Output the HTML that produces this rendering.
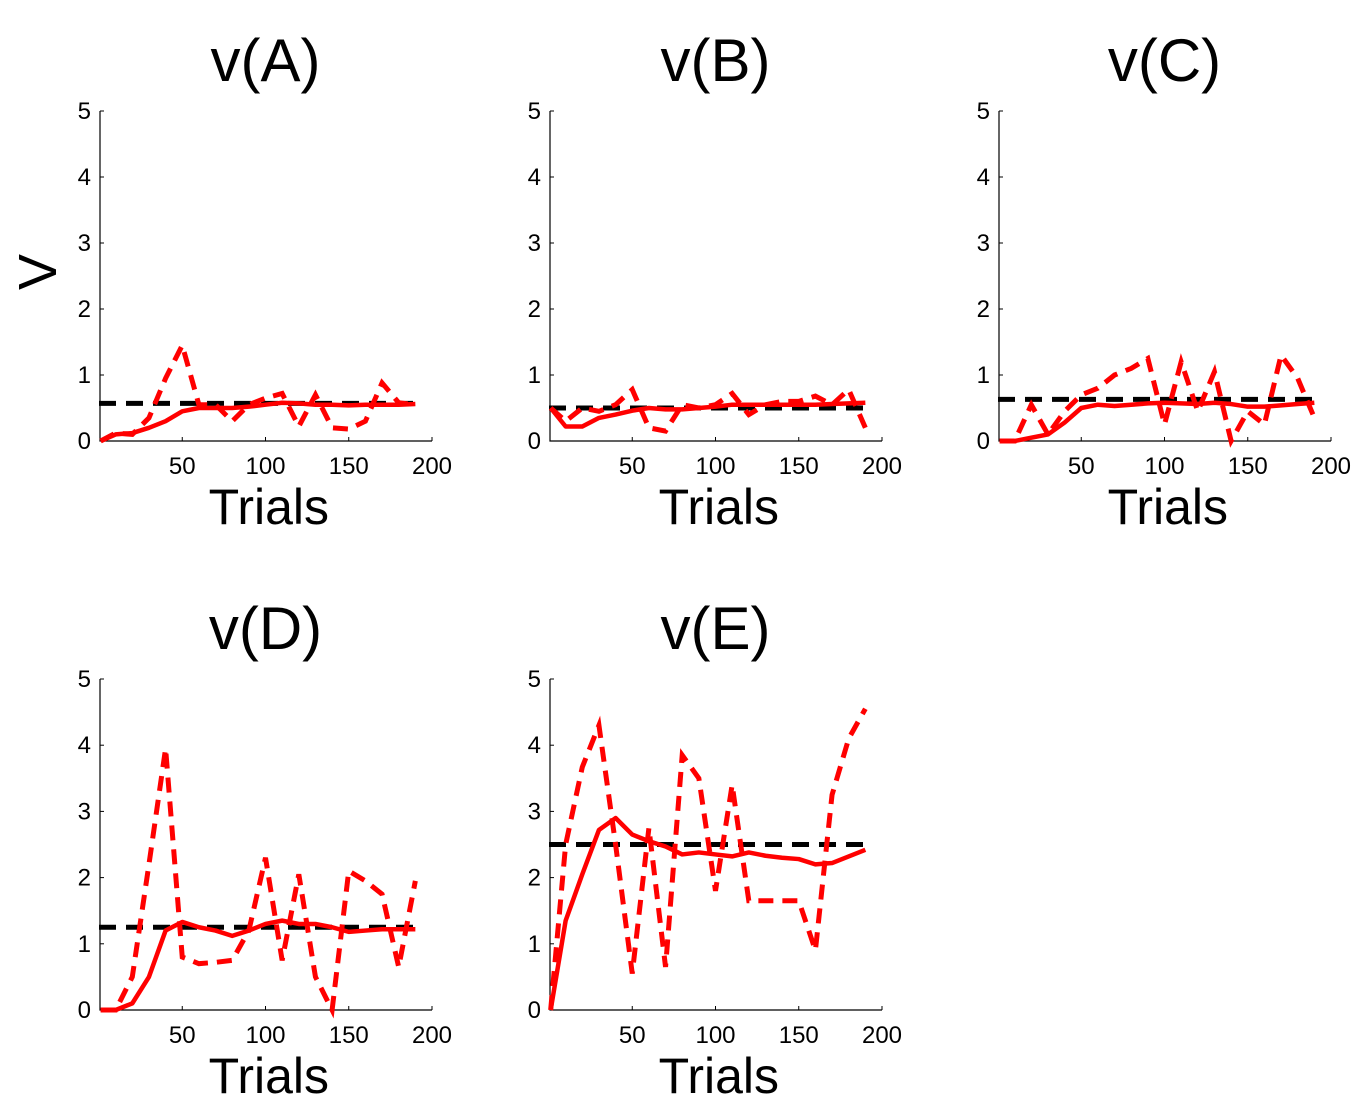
<!DOCTYPE html>
<html><head><meta charset="utf-8"><style>
body{margin:0;background:#fff;}
svg text{font-family:"Liberation Sans",sans-serif;fill:#000;}
</style></head><body>
<svg id="chart" width="1364" height="1112" xmlns="http://www.w3.org/2000/svg"></svg>
<script>
const trials=[1,10,20,30,40,50,60,70,80,90,100,110,120,130,140,150,160,170,180,190];
const panelNames=["A","B","C","D","E"];
const solidA=[0,0.1,0.12,0.2,0.3,0.45,0.5,0.5,0.5,0.52,0.55,0.58,0.57,0.55,0.55,0.54,0.55,0.55,0.55,0.56];
const dashA=[0,0.12,0.1,0.35,0.95,1.45,0.55,0.55,0.3,0.55,0.65,0.72,0.22,0.7,0.2,0.18,0.3,0.88,0.58,0.55];
const trueA=0.57;
const solidB=[0.5,0.22,0.22,0.35,0.4,0.46,0.5,0.48,0.48,0.5,0.52,0.55,0.55,0.55,0.55,0.55,0.55,0.56,0.57,0.58];
const dashB=[0.5,0.3,0.5,0.45,0.55,0.78,0.2,0.15,0.55,0.5,0.55,0.72,0.4,0.55,0.6,0.6,0.68,0.55,0.78,0.2];
const trueB=0.5;
const solidC=[0,0,0.05,0.1,0.28,0.5,0.55,0.53,0.55,0.57,0.58,0.57,0.56,0.58,0.56,0.52,0.52,0.54,0.56,0.58];
const dashC=[0,0,0.55,0.1,0.45,0.7,0.8,1.0,1.1,1.25,0.25,1.2,0.45,1.05,0,0.45,0.25,1.3,0.95,0.35];
const trueC=0.63;
const solidD=[0,0,0.1,0.5,1.2,1.33,1.25,1.2,1.12,1.2,1.3,1.35,1.3,1.3,1.25,1.18,1.2,1.22,1.22,1.22];
const dashD=[0,0,0.5,2.2,3.95,0.8,0.7,0.72,0.75,1.2,2.3,0.75,2.05,0.5,0,2.1,1.95,1.75,0.65,1.95];
const trueD=1.25;
const solidE=[0,1.35,2.05,2.72,2.9,2.65,2.55,2.47,2.35,2.38,2.35,2.32,2.38,2.33,2.3,2.28,2.2,2.22,2.32,2.42];
const dashE=[0,2.5,3.67,4.3,2.5,0.55,2.75,0.65,3.85,3.5,1.8,3.4,1.65,1.65,1.65,1.65,0.9,3.25,4.1,4.55];
const trueE=2.5;
const xTicks=[50,100,150,200];
const yTicks=[0,1,2,3,4,5];

const solids=[solidA,solidB,solidC,solidD,solidE];
const dashes=[dashA,dashB,dashC,dashD,dashE];
const trues=[trueA,trueB,trueC,trueD,trueE];
const NS="http://www.w3.org/2000/svg";
const svg=document.getElementById('chart');
function mk(tag,attrs,parent){const e=document.createElementNS(NS,tag);for(const k in attrs)e.setAttribute(k,attrs[k]);(parent||svg).appendChild(e);return e;}
const colX=[99,549,998], rowY0=[441,1010], rowY5=[111,679];
panelNames.forEach((nm,i)=>{
  const x0=colX[i%3], y0=rowY0[Math.floor(i/3)], y5=rowY5[Math.floor(i/3)];
  const sx=v=>x0+v*333/200, sy=v=>y0-(v/5)*(y0-y5);
  const g=mk('g',{});
  
  
  const t=mk('text',{x:sx(100),y:y5-30,'font-size':60,'text-anchor':'middle'},g);
  t.textContent='v('+nm+')';
  
  
  const ax=mk('path',{d:`M${sx(0)+1} ${y5} V${y0} H${sx(200)}`,stroke:'#000','stroke-width':1.2,fill:'none'},g);
  
  
  yTicks.forEach(v=>{
    mk('line',{x1:sx(0)+1,x2:sx(0)+5,y1:sy(v),y2:sy(v),stroke:'#000','stroke-width':1},g);
    const l=mk('text',{x:sx(0)-8,y:sy(v)+8,'font-size':24,'text-anchor':'end'},g);
    l.textContent=v;
    
    
  });
  xTicks.forEach(v=>{
    mk('line',{x1:sx(v),x2:sx(v),y1:y0,y2:y0-4,stroke:'#000','stroke-width':1},g);
    const l=mk('text',{x:sx(v),y:y0+33,'font-size':24,'text-anchor':'middle'},g);
    l.textContent=v;
    
    
  });
  const xl=mk('text',{x:sx(102),y:y0+83,'font-size':50,'text-anchor':'middle'},g);
  xl.textContent='Trials';
  
  
  const tl=mk('line',{x1:sx(0),x2:sx(192),y1:sy(trues[i]),y2:sy(trues[i]),stroke:'#000','stroke-width':5,'stroke-dasharray':'17 10'},g);
  
  
  const dp=mk('polyline',{points:trials.map((t,j)=>sx(t)+','+sy(dashes[i][j])).join(' '),stroke:'#f00','stroke-width':5,fill:'none','stroke-dasharray':'15 9'},g);
  
  
  const sp=mk('polyline',{points:trials.map((t,j)=>sx(t)+','+sy(solids[i][j])).join(' '),stroke:'#f00','stroke-width':4.5,fill:'none','stroke-linejoin':'round'},g);
  
  
});
const yl=mk('text',{x:0,y:0,'font-size':54,'text-anchor':'middle',transform:'translate(56,272) rotate(-90)'});
yl.textContent='V';


</script>
</body></html>
